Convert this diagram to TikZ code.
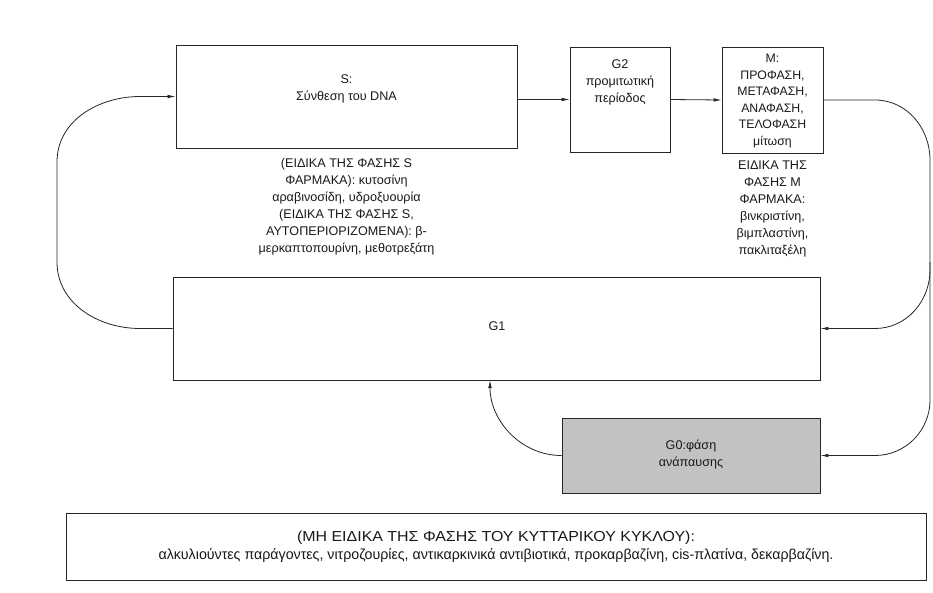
\documentclass[tikz,border=0pt]{standalone}
\usepackage{fontspec}
\setmainfont{Liberation Sans}
\usetikzlibrary{arrows.meta}
\tikzset{
  box/.style={draw=black!85, line width=0.9pt, inner sep=0pt, anchor=center},
  txt/.style={align=center, inner sep=0pt, font=\fontsize{12.6}{17}\selectfont, text=black!90},
  conn/.style={draw=black!85, line width=0.8pt},
  arr/.style={conn, -{Latex[length=8pt,width=3.6pt]}}
}
\begin{document}
\begin{tikzpicture}[x=1pt,y=-1pt]
\useasboundingbox[fill=white] (0,0) rectangle (933,592);
% boxes
\node[box, minimum width=341pt, minimum height=103pt] (S) at (346.5,96.5) {};
\node[box, minimum width=100pt, minimum height=105pt] (G2) at (620,99.5) {};
\node[box, minimum width=101pt, minimum height=106pt] (M) at (772.5,100) {};
\node[box, minimum width=647pt, minimum height=103pt] (G1) at (496.5,328.5) {};
\node[box, fill=black!24, minimum width=258pt, minimum height=75pt] (G0) at (691,455.5) {};
\node[box, minimum width=860pt, minimum height=67pt] (B) at (496,546.5) {};
% texts
\node[txt] (Stxt) at (346.5,89) {S:\\Σύνθεση του DNA};
\node[txt] (Sdrug) at (346.5,207) {(ΕΙΔΙΚΑ ΤΗΣ ΦΑΣΗΣ S\\ΦΑΡΜΑΚΑ): κυτοσίνη\\αραβινοσίδη, υδροξυουρία\\(ΕΙΔΙΚΑ ΤΗΣ ΦΑΣΗΣ S,\\ΑΥΤΟΠΕΡΙΟΡΙΖΟΜΕΝΑ): β-\\μερκαπτοπουρίνη, μεθοτρεξάτη};
\node[txt] (G2txt) at (620,82) {G2\\προμιτωτική\\περίοδος};
\node[txt, font=\fontsize{12.3}{16.5}\selectfont] (Mtxt) at (772.5,101) {M:\\ΠΡΟΦΑΣΗ,\\ΜΕΤΑΦΑΣΗ,\\ΑΝΑΦΑΣΗ,\\ΤΕΛΟΦΑΣΗ\\μίτωση};
\node[txt] (Mdrug) at (772.5,209) {ΕΙΔΙΚΑ ΤΗΣ\\ΦΑΣΗΣ Μ\\ΦΑΡΜΑΚΑ:\\βινκριστίνη,\\βιμπλαστίνη,\\πακλιταξέλη};
\node[txt] (G1txt) at (497,326) {G1};
\node[txt] (G0txt) at (691,455) {G0:φάση\\ανάπαυσης};
\node[txt, font=\fontsize{14.5}{18}\selectfont] (Btxt) at (496,547) {\scalebox{1.1}[1]{(ΜΗ ΕΙΔΙΚΑ ΤΗΣ ΦΑΣΗΣ ΤΟΥ ΚΥΤΤΑΡΙΚΟΥ ΚΥΚΛΟΥ):}\\\scalebox{0.98}[1]{αλκυλιούντες παράγοντες, νιτροζουρίες, αντικαρκινικά αντιβιοτικά, προκαρβαζίνη, cis-πλατίνα, δεκαρβαζίνη.}};
% coordinates
\coordinate (r1) at (875,100);
\coordinate (r2) at (930,160);
\coordinate (r3) at (930,270);
\coordinate (r4) at (875,328.5);
\coordinate (r5) at (930,262);
\coordinate (r6) at (930,400);
\coordinate (r7) at (875,455.5);
\coordinate (l1) at (140,328.5);
\coordinate (l2) at (57,262);
\coordinate (l3) at (57,162);
\coordinate (l4) at (140,96.5);
\coordinate (g1in) at (490,380);
% connectors
\draw[arr] (S.east |- G2.west) -- (G2.west);
\draw[arr] (G2.east) -- (M.west);
\draw[arr] (M.east) -- (r1) to[out=0,in=90] (r2) -- (r3) to[out=-90,in=0] (r4) -- (G1.east);
\draw[arr] (r5) -- (r6) to[out=-90,in=0] (r7) -- (G0.east);
\draw[arr] (G1.west) -- (l1) to[out=180,in=-90] (l2) -- (l3) to[out=90,in=180] (l4) -- (S.west);
\draw[arr] (G0.west) to[out=180,in=-90] (g1in);
\end{tikzpicture}
\end{document}
